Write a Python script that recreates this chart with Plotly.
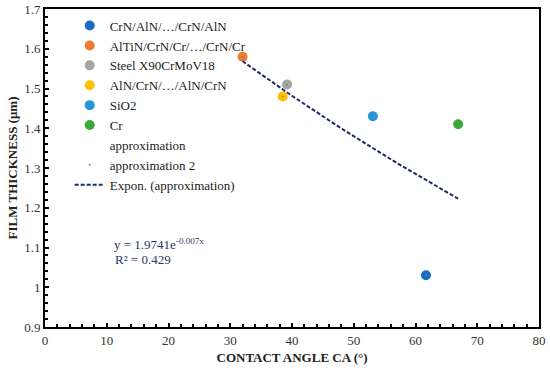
import numpy as np
import plotly.graph_objects as go

series_names = ["CrN/AlN/…/CrN/AlN", "AlTiN/CrN/Cr/…/CrN/Cr", "Steel X90CrMoV18",
                "AlN/CrN/…/AlN/CrN", "SiO2", "Cr"]
contact_angle = [61.7, 32.0, 39.2, 38.5, 53.1, 66.9]
film_thickness = [1.03, 1.58, 1.51, 1.48, 1.43, 1.41]
colors = ["#1a6bc6", "#f07a30", "#a5a5a5", "#ffc000", "#2196db", "#3baa3b"]

x_ticks = [0, 10, 20, 30, 40, 50, 60, 70, 80]
y_ticks = [0.9, 1.0, 1.1, 1.2, 1.3, 1.4, 1.5, 1.6, 1.7]
y_tick_text = ["0.9", "1", "1.1", "1.2", "1.3", "1.4", "1.5", "1.6", "1.7"]

FONT = "Liberation Serif"

fig = go.Figure()
for name, xv, yv, c in zip(series_names, contact_angle, film_thickness, colors):
    fig.add_trace(go.Scatter(x=[xv], y=[yv], mode="markers", name=name,
                             marker=dict(color=c, size=10)))

# approximation (invisible marker) and approximation 2 (small dots)
fig.add_trace(go.Scatter(x=contact_angle, y=film_thickness, mode="markers",
                         name="approximation",
                         marker=dict(color="rgba(255,255,255,0)", size=6)))
fig.add_trace(go.Scatter(x=contact_angle, y=film_thickness, mode="markers",
                         name="approximation 2",
                         marker=dict(color="#7f7f7f", size=2)))

# exponential trendline fitted to data (log-linear least squares, like Excel)
xa = np.array(contact_angle)
ya = np.array(film_thickness)
b, lna = np.polyfit(xa, np.log(ya), 1)
xs = np.linspace(xa.min(), xa.max(), 60)
ys = np.exp(lna) * np.exp(b * xs)
fig.add_trace(go.Scatter(x=xs, y=ys, mode="lines", name="Expon. (approximation)",
                         line=dict(color="#1f2a6b", width=2, dash="4px,2px")))

fig.add_annotation(x=0.136, y=0.2296, xref="paper", yref="paper", showarrow=False,
                   text="y = 1.9741e<sup>-0.007x</sup>",
                   font=dict(family=FONT, size=13, color="#1f3864"))
fig.add_annotation(x=0.138, y=0.182, xref="paper", yref="paper", showarrow=False,
                   text="R² = 0.429",
                   font=dict(family=FONT, size=13, color="#1f3864"))

axis_common = dict(showline=True, linecolor="black", linewidth=2, mirror=True,
                   showgrid=False, zeroline=False, ticks="inside", ticklen=4,
                   tickcolor="black", tickwidth=1.5, automargin=False,
                   tickfont=dict(family=FONT, size=13, color="#333333"))

fig.update_xaxes(range=[0, 80], tickvals=x_ticks,
                 minor=dict(dtick=2, ticks="inside", ticklen=3, tickcolor="black", tickwidth=1.5),
                 title=dict(text="<b>CONTACT ANGLE CA (°)</b>", standoff=6,
                            font=dict(family=FONT, size=13, color="#222")),
                 **axis_common)
fig.update_yaxes(range=[0.9, 1.7], tickvals=y_ticks, ticktext=y_tick_text,
                 minor=dict(dtick=0.02, ticks="inside", ticklen=3, tickcolor="black", tickwidth=1.5),
                 title=dict(text="<b>FILM THICKNESS (μm)</b>", standoff=4,
                            font=dict(family=FONT, size=13, color="#222")),
                 **axis_common)

fig.update_layout(width=550, height=371, plot_bgcolor="white", paper_bgcolor="white",
                  margin=dict(l=45, r=11, t=9, b=44, autoexpand=False),
                  legend=dict(x=0.05, y=0.995, xanchor="left", yanchor="top",
                              bgcolor="rgba(255,255,255,0)",
                              font=dict(family=FONT, size=13, color="#222"),
                              tracegroupgap=0, itemwidth=30),
                  showlegend=True)

fig.write_html("out.html", config={"displayModeBar": False},
               post_script="document.body.style.margin='0';document.body.style.padding='0';")
